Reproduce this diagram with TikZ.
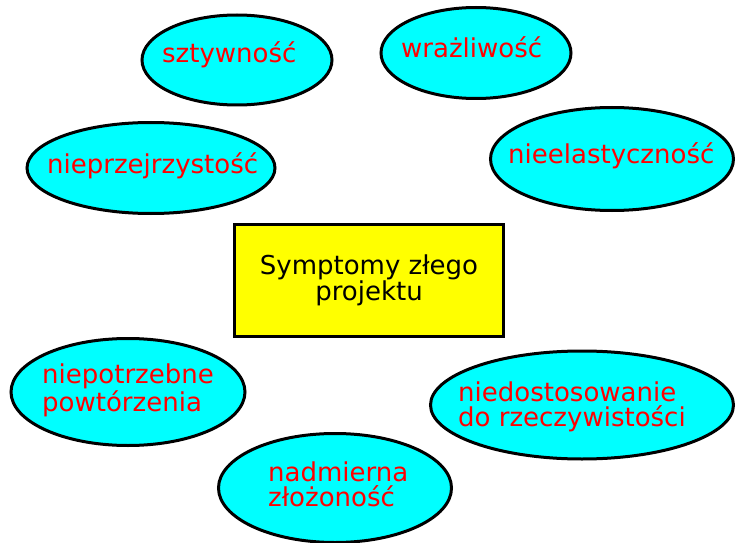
\documentclass[tikz,border=0pt]{standalone}
\usepackage{fontspec}
\setmainfont{DejaVu Sans}
\definecolor{aqua}{RGB}{0,255,255}
\definecolor{lemon}{RGB}{255,255,0}
\definecolor{scarlet}{RGB}{255,0,0}

\begin{document}
\begin{tikzpicture}[x=1pt,y=-1pt,
  blob/.style={fill=aqua,draw=black,line width=3pt},
  symptom/.style={anchor=base west,inner sep=0pt,align=left,text=scarlet,
    font=\fontsize{26}{25}\selectfont}]
\useasboundingbox (0,0) rectangle (737,543);

\filldraw[blob] (237,60) ellipse [x radius=95,y radius=45];
\node[symptom] (sztywnosc) at (162,63) {sztywność};

\filldraw[blob] (476,53) ellipse [x radius=95,y radius=45.5];
\node[symptom] (wrazliwosc) at (401,58) {wrażliwość};

\filldraw[blob] (151,168) ellipse [x radius=124,y radius=45.5];
\node[symptom] (nieprzejrzystosc) at (47,173) {nieprzejrzystość};

\filldraw[blob] (612,159) ellipse [x radius=121.5,y radius=51.5];
\node[symptom] (nieelastycznosc) at (508,164) {nieelastyczność};

% multi-line labels sit on their last baseline
\filldraw[blob] (128,392) ellipse [x radius=117,y radius=53.5];
\node[symptom] (powtorzenia) at (42,411) {niepotrzebne\\powtórzenia};

\filldraw[blob] (582,405) ellipse [x radius=151.5,y radius=54];
\node[symptom] (niedostosowanie) at (458,426.5) {niedostosowanie\\do rzeczywistości};

\filldraw[blob] (335,488) ellipse [x radius=116.5,y radius=54.5];
\node[symptom] (zlozonosc) at (268,506) {nadmierna\\złożoność};

\node[draw,line width=3pt,fill=lemon,minimum width=269pt,minimum height=112pt,
  align=center,font=\fontsize{26}{23}\selectfont] (symptomy) at (369,280.5)
  {Symptomy złego\\projektu};
\end{tikzpicture}
\end{document}
